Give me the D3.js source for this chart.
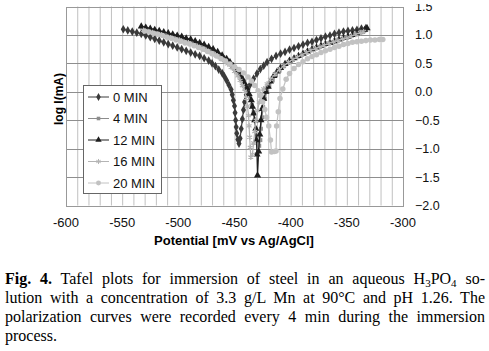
<!DOCTYPE html>
<html><head><meta charset="utf-8">
<script src="https://cdn.jsdelivr.net/npm/d3@7"></script>
<style>
body{margin:0;background:#fff;width:489px;height:351px;overflow:hidden;position:relative;font-family:Arial,"Liberation Sans",sans-serif;}
svg{position:absolute;left:0;top:0;}
.cap{position:absolute;left:5px;width:480px;font-family:"Liberation Serif","Times New Roman",serif;font-size:16px;line-height:19px;color:#000;white-space:nowrap;}
.j{text-align:justify;text-align-last:justify;white-space:normal;}
sub{font-size:11px;vertical-align:-3px;line-height:0;}
</style></head><body>
<svg id="chart" width="489" height="351"></svg>
<div class="cap j" style="top:269px"><b>Fig. 4.</b> Tafel plots for immersion of steel in an aqueous H<sub>3</sub>PO<sub>4</sub> so-</div>
<div class="cap j" style="top:288px">lution with a concentration of 3.3 g/L Mn at 90°C and pH 1.26. The</div>
<div class="cap j" style="top:307px">polarization curves were recorded every 4 min during the immersion</div>
<div class="cap" style="top:326px">process.</div>
<script>
const xTicks = [-600,-550,-500,-450,-400,-350,-300];
const yTicks = [-2.0,-1.5,-1.0,-0.5,0.0,0.5,1.0,1.5];
const seriesNames = ["0 MIN","4 MIN","12 MIN","16 MIN","20 MIN"];

const min0 = [[-549,1.10],[-545,1.08],[-541,1.06],[-537,1.04],[-533,1.02],[-529,0.99],[-525,0.96],[-521,0.93],[-517,0.90],[-513,0.87],[-509,0.84],[-505,0.81],[-501,0.78],[-497,0.75],[-493,0.72],[-489,0.69],[-485,0.66],[-481,0.63],[-477,0.59],[-473,0.55],[-470,0.50],[-467,0.45],[-464,0.39],[-461,0.33],[-459,0.27],[-457,0.20],[-455,0.12],[-453,0.04],[-452,-0.05],[-451,-0.15],[-450,-0.25],[-449.5,-0.37],[-449,-0.50],[-448.5,-0.62],[-448,-0.73],[-447,-0.84],[-446,-0.91],[-445,-0.82],[-444,-0.65],[-443,-0.48],[-442,-0.32],[-441,-0.18],[-439.5,-0.05],[-438,0.05],[-436,0.13],[-433,0.23],[-430,0.32],[-427,0.40],[-424,0.46],[-421,0.52],[-417,0.58],[-413,0.63],[-409,0.67],[-405,0.70],[-401,0.74],[-397,0.77],[-393,0.80],[-389,0.83],[-385,0.86],[-381,0.88],[-377,0.91],[-373,0.94],[-369,0.97],[-365,0.99],[-361,1.02],[-357,1.04],[-353,1.06],[-349,1.07],[-345,1.08],[-341,1.09],[-337,1.11],[-333,1.12]];

const min4 = [[-532,1.12],[-528,1.10],[-524,1.08],[-520,1.06],[-516,1.04],[-512,1.02],[-508,1.00],[-504,0.98],[-500,0.96],[-496,0.93],[-492,0.91],[-488,0.88],[-484,0.85],[-480,0.82],[-476,0.79],[-472,0.75],[-468,0.71],[-464,0.66],[-460,0.61],[-456,0.55],[-453,0.49],[-450,0.42],[-447,0.35],[-444,0.27],[-442,0.19],[-440,0.10],[-438,0.00],[-436,-0.11],[-434.5,-0.23],[-433,-0.36],[-432,-0.50],[-431,-0.65],[-430,-0.78],[-429,-0.88],[-428,-0.95],[-427,-0.85],[-426.5,-0.65],[-425.5,-0.45],[-424.5,-0.27],[-423,-0.12],[-421,0.00],[-419,0.10],[-416,0.20],[-413,0.29],[-410,0.37],[-406,0.45],[-402,0.51],[-398,0.56],[-394,0.61],[-390,0.65],[-386,0.69],[-382,0.73],[-378,0.76],[-374,0.79],[-370,0.82],[-366,0.85],[-362,0.87],[-358,0.90],[-354,0.93],[-350,0.95],[-346,0.98],[-342,1.01],[-338,1.04],[-335,1.07]];

const min12 = [[-533,1.15],[-529,1.13],[-525,1.11],[-521,1.09],[-517,1.07],[-513,1.05],[-509,1.03],[-505,1.01],[-501,0.99],[-497,0.97],[-493,0.94],[-489,0.92],[-485,0.89],[-481,0.86],[-477,0.83],[-473,0.79],[-469,0.75],[-465,0.70],[-461,0.64],[-457,0.58],[-454,0.52],[-451,0.45],[-448,0.38],[-445,0.30],[-443,0.23],[-441,0.15],[-439,0.06],[-437,-0.04],[-435,-0.15],[-434,-0.26],[-433,-0.38],[-432,-0.50],[-431,-0.65],[-430.5,-0.85],[-430,-1.10],[-429.5,-1.47],[-428.5,-1.05],[-427.5,-0.75],[-426.5,-0.50],[-425.5,-0.30],[-424,-0.12],[-422,0.00],[-420,0.09],[-418,0.18],[-415,0.28],[-412,0.36],[-409,0.42],[-405,0.49],[-401,0.55],[-397,0.59],[-393,0.63],[-389,0.67],[-385,0.71],[-381,0.75],[-377,0.78],[-373,0.81],[-369,0.84],[-365,0.86],[-361,0.89],[-357,0.92],[-353,0.95],[-349,0.97],[-345,1.00],[-341,1.03],[-337,1.06],[-334,1.09],[-332,1.12]];

const min16 = [[-531,1.08],[-527,1.06],[-523,1.04],[-519,1.02],[-515,1.00],[-511,0.98],[-507,0.95],[-503,0.93],[-499,0.91],[-495,0.88],[-491,0.86],[-487,0.83],[-483,0.80],[-479,0.77],[-475,0.73],[-471,0.69],[-467,0.65],[-463,0.60],[-459,0.55],[-456,0.49],[-453,0.43],[-450,0.36],[-447,0.28],[-445,0.20],[-443,0.11],[-441,0.01],[-439.5,-0.11],[-438.5,-0.25],[-437.5,-0.42],[-437,-0.60],[-436.5,-0.80],[-436,-0.98],[-435.5,-1.15],[-434,-1.10],[-433,-0.90],[-432,-0.70],[-431,-0.50],[-429.5,-0.33],[-428,-0.18],[-426,-0.05],[-424,0.05],[-421,0.14],[-418,0.22],[-414,0.31],[-410,0.39],[-406,0.46],[-402,0.52],[-398,0.57],[-394,0.61],[-390,0.65],[-386,0.69],[-382,0.73],[-378,0.76],[-374,0.79],[-370,0.82],[-366,0.85],[-362,0.88],[-358,0.90],[-354,0.93],[-350,0.95],[-346,0.98],[-342,1.01],[-338,1.04],[-335,1.06]];

const min20 = [[-530,1.07],[-526,1.05],[-522,1.03],[-518,1.01],[-514,0.99],[-510,0.96],[-506,0.94],[-502,0.91],[-498,0.89],[-494,0.86],[-490,0.84],[-486,0.81],[-482,0.78],[-478,0.75],[-474,0.71],[-470,0.67],[-466,0.63],[-462,0.58],[-458,0.54],[-454,0.49],[-450,0.44],[-446,0.39],[-442,0.33],[-438,0.26],[-435,0.19],[-432,0.11],[-429,0.02],[-427,-0.07],[-425,-0.18],[-423,-0.31],[-421.5,-0.45],[-419.5,-0.60],[-418,-0.85],[-417,-1.06],[-414.5,-1.05],[-413,-1.04],[-412.5,-0.60],[-411,-0.35],[-409.5,-0.12],[-407,0.05],[-404,0.22],[-401,0.32],[-397,0.41],[-393,0.48],[-389,0.53],[-385,0.58],[-381,0.62],[-377,0.65],[-373,0.69],[-369,0.72],[-365,0.75],[-361,0.78],[-357,0.80],[-353,0.83],[-349,0.85],[-345,0.87],[-341,0.88],[-337,0.89],[-333,0.90],[-329,0.91],[-325,0.91],[-321,0.92],[-318,0.92]];

const seriesData = [min0, min4, min12, min16, min20];
const colors = ["#3a3a3a","#8c8c8c","#1e1e1e","#b4b4b4","#c2c2c2"];
const symbols = [d3.symbolDiamond, d3.symbolSquare, d3.symbolTriangle, d3.symbolAsterisk, d3.symbolCircle];
const symSizes = [22, 16, 22, 22, 24];

const svg = d3.select("#chart");
const x = d3.scaleLinear().domain([-600,-300]).range([66,403]);
const y = d3.scaleLinear().domain([-2,1.5]).range([205.5,6.5]);

// grid
const g = svg.append("g");
g.selectAll(".vg").data(d3.range(-590,-300,10)).join("line")
  .attr("x1",d=>x(d)+0.5).attr("x2",d=>x(d)+0.5).attr("y1",y(1.5)).attr("y2",y(-2))
  .attr("stroke","#c0c0c0").attr("stroke-width",1);
g.selectAll(".hg").data(yTicks).join("line")
  .attr("x1",x(-600)).attr("x2",x(-300)).attr("y1",d=>Math.round(y(d))+0.5).attr("y2",d=>Math.round(y(d))+0.5)
  .attr("stroke","#8e8e8e").attr("stroke-width",1);
g.append("rect").attr("x",x(-600)+0.5).attr("y",Math.round(y(1.5))+0.5)
  .attr("width",x(-300)-x(-600)).attr("height",Math.round(y(-2))-Math.round(y(1.5)))
  .attr("fill","none").attr("stroke","#999");

// x tick labels
svg.append("g").selectAll("text").data(xTicks).join("text")
  .attr("x",d=>x(d)).attr("y",227).attr("text-anchor","middle")
  .attr("font-size","13px").attr("fill","#111").text(d=>d);
// y tick labels (right)
svg.append("g").selectAll("text").data(yTicks).join("text")
  .attr("x",415).attr("y",d=>y(d)+4.5).attr("text-anchor","start")
  .attr("font-size","12.5px").attr("fill","#111").text(d=>d3.format(".1f")(d));

// axis titles
svg.append("text").attr("x",234).attr("y",245).attr("text-anchor","middle")
  .attr("font-size","13px").attr("font-weight","bold").text("Potential [mV vs Ag/AgCl]");
svg.append("text").attr("transform","translate(63,99) rotate(-90)").attr("text-anchor","middle")
  .attr("font-size","12px").attr("font-weight","bold").text("log I(mA)");

// series
const line = d3.line().x(d=>x(d[0])).y(d=>y(d[1]));
seriesData.forEach((data,i)=>{
  const sg = svg.append("g");
  sg.append("path").datum(data).attr("d",line).attr("fill","none")
    .attr("stroke",colors[i]).attr("stroke-width",1.2);
  const sym = d3.symbol().type(symbols[i]).size(symSizes[i]);
  sg.selectAll("path.m").data(data).join("path").attr("class","m")
    .attr("transform",d=>`translate(${x(d[0])},${y(d[1])})`)
    .attr("d",sym())
    .attr("fill",symbols[i]===d3.symbolAsterisk?"none":colors[i])
    .attr("stroke",symbols[i]===d3.symbolAsterisk?colors[i]:"none")
    .attr("stroke-width",1.2);
});

// legend
const lg = svg.append("g");
lg.append("rect").attr("x",83.5).attr("y",85.5).attr("width",78).attr("height",108)
  .attr("fill","#fff").attr("stroke","#666");
seriesNames.forEach((name,i)=>{
  const yy = 97 + i*21.5;
  lg.append("line").attr("x1",88).attr("x2",109).attr("y1",yy).attr("y2",yy)
    .attr("stroke",colors[i]).attr("stroke-width",1);
  const sym = d3.symbol().type(symbols[i]).size(symSizes[i]*0.8);
  lg.append("path").attr("transform",`translate(98.5,${yy})`).attr("d",sym())
    .attr("fill",symbols[i]===d3.symbolAsterisk?"none":colors[i])
    .attr("stroke",symbols[i]===d3.symbolAsterisk?colors[i]:"none");
  lg.append("text").attr("x",113).attr("y",yy+4.7).attr("font-size","13px").attr("fill","#111").text(name);
});

// top crop of source image
svg.append("rect").attr("x",0).attr("y",0).attr("width",489).attr("height",4).attr("fill","#fff");
</script>
</body></html>
